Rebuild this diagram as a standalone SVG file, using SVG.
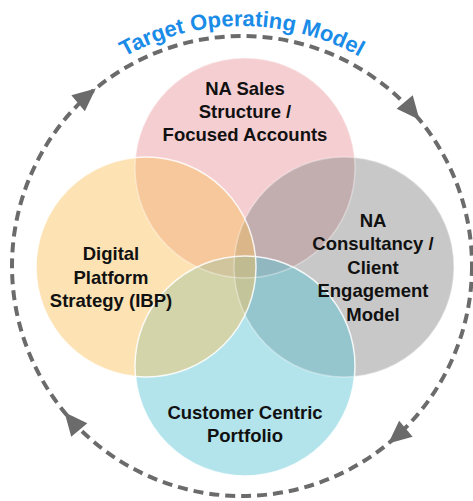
<svg xmlns="http://www.w3.org/2000/svg" width="473" height="501" viewBox="0 0 473 501">
  <style>
    .lbl { font-family: "Liberation Sans", Arial, sans-serif; font-weight: bold; font-size: 18.5px; fill: #111111; text-anchor: middle; }
    .title { font-family: "Liberation Sans", Arial, sans-serif; font-weight: bold; font-size: 22px; fill: #1a8ce8; }
    .petal { fill-opacity: 0.45; }
    .edge { fill: none; stroke: #ffffff; stroke-width: 1.5; }
    .cycle { fill: none; stroke: #6b6b6b; stroke-width: 4; stroke-dasharray: 10 6; }
    .head { fill: #6b6b6b; }
  </style>
  <defs>
    <path id="titleArc" d="M16.5,183.9 A240,240 0 0,1 467.5,183.9"/>
    <polygon id="arrowHead" points="2,0 -21,-10.5 -21,10.5"/>
  </defs>
  <rect width="473" height="501" fill="#ffffff"/>

  <!-- outer operating cycle -->
  <g id="connectors">
    <circle class="cycle" cx="242" cy="266" r="230"/>
    <use href="#arrowHead" class="head" transform="translate(94.2,89.8) rotate(-40)"/>
    <use href="#arrowHead" class="head" transform="translate(418.2,118.2) rotate(50)"/>
    <use href="#arrowHead" class="head" transform="translate(389.8,442.2) rotate(140)"/>
    <use href="#arrowHead" class="head" transform="translate(65.8,413.8) rotate(230)"/>
  </g>

  <text class="title"><textPath href="#titleArc" startOffset="50%" text-anchor="middle">Target Operating Model</textPath></text>

  <!-- overlapping capability circles -->
  <circle class="petal" cx="245" cy="168" r="110" fill="#e99299"/>
  <circle class="petal" cx="344" cy="267" r="110" fill="#858585"/>
  <circle class="petal" cx="245" cy="366" r="110" fill="#56c3d5"/>
  <circle class="petal" cx="146" cy="267" r="110" fill="#fbc158"/>
  <circle class="edge" cx="245" cy="168" r="110" stroke-opacity="0.35"/>
  <circle class="edge" cx="344" cy="267" r="110" stroke-opacity="0.35"/>
  <circle class="edge" cx="146" cy="267" r="110" stroke-opacity="0.85"/>
  <circle class="edge" cx="245" cy="366" r="110" stroke-opacity="0.85"/>

  <g id="sales">
    <text class="lbl" x="245" y="95">NA Sales</text>
    <text class="lbl" x="245" y="118">Structure /</text>
    <text class="lbl" x="245" y="141">Focused Accounts</text>
  </g>
  <g id="digital">
    <text class="lbl" x="111" y="260">Digital</text>
    <text class="lbl" x="111" y="283.5">Platform</text>
    <text class="lbl" x="111" y="307">Strategy (IBP)</text>
  </g>
  <g id="consultancy">
    <text class="lbl" x="373" y="226.5">NA</text>
    <text class="lbl" x="373" y="250">Consultancy /</text>
    <text class="lbl" x="373" y="273.5">Client</text>
    <text class="lbl" x="373" y="297">Engagement</text>
    <text class="lbl" x="373" y="320.5">Model</text>
  </g>
  <g id="portfolio">
    <text class="lbl" x="245" y="419">Customer Centric</text>
    <text class="lbl" x="245" y="442">Portfolio</text>
  </g>
</svg>
